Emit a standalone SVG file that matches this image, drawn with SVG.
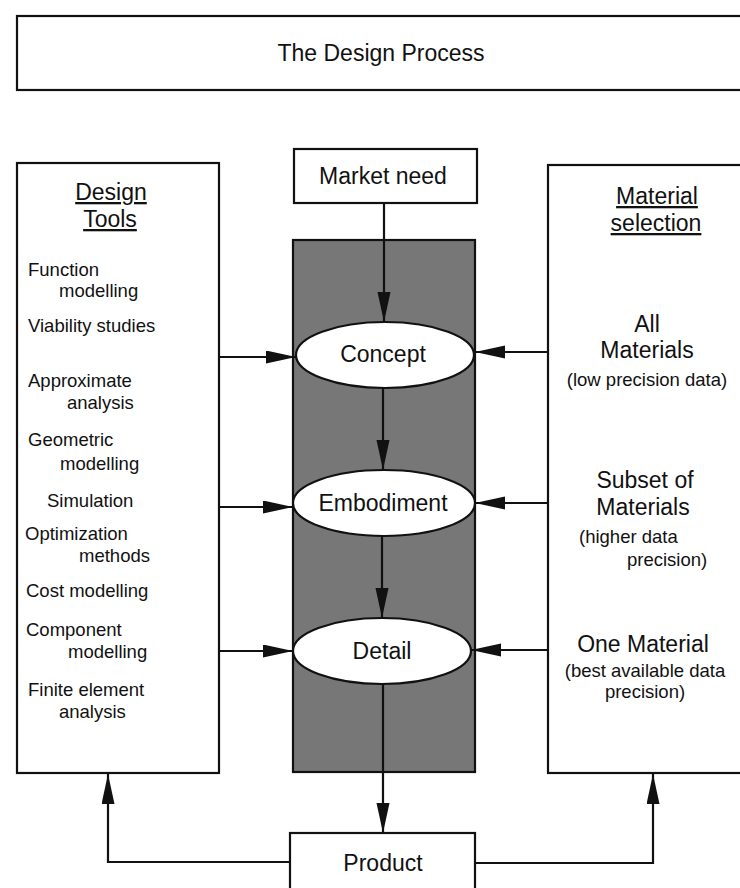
<svg xmlns="http://www.w3.org/2000/svg" width="740" height="888" viewBox="0 0 740 888">
<style>
text{font-family:"Liberation Sans",Arial,Helvetica,sans-serif;fill:#111}
.big{font-size:23px}
.sm{font-size:18.5px}
.mid{text-anchor:middle}
.box{fill:#fff;stroke:#111;stroke-width:2.2}
.ell{fill:#fff;stroke:#111;stroke-width:2.2}
.con{fill:none;stroke:#111;stroke-width:2.2}
.u{text-decoration:underline}
</style>
<defs>
<marker id="ah" markerUnits="userSpaceOnUse" markerWidth="32" markerHeight="14" refX="30" refY="6.5" orient="auto">
<path d="M0,0 L30,6.5 L0,13 z" fill="#111"/>
</marker>
</defs>
<rect width="740" height="888" fill="#fff"/>

<g id="title">
<rect class="box" x="17" y="16" width="745" height="74"/>
<text class="big mid" x="381" y="61">The Design Process</text>
</g>

<g id="design-tools">
<rect class="box" x="17" y="163" width="202" height="610"/>
<text class="big mid u" x="111" y="200">Design</text>
<text class="big mid u" x="110" y="227">Tools</text>
<g class="sm">
<text class="sm" x="28" y="276">Function</text>
<text class="sm" x="59" y="297">modelling</text>
<text class="sm" x="28" y="332">Viability studies</text>
<text class="sm" x="28" y="387">Approximate</text>
<text class="sm" x="67" y="409">analysis</text>
<text class="sm" x="28" y="446">Geometric</text>
<text class="sm" x="60" y="470">modelling</text>
<text class="sm" x="47" y="507">Simulation</text>
<text class="sm" x="25" y="540">Optimization</text>
<text class="sm" x="79" y="562">methods</text>
<text class="sm" x="26" y="597">Cost modelling</text>
<text class="sm" x="26" y="636">Component</text>
<text class="sm" x="68" y="658">modelling</text>
<text class="sm" x="28" y="696">Finite element</text>
<text class="sm" x="59" y="718">analysis</text>
</g>
</g>

<g id="material-selection">
<rect class="box" x="548" y="165" width="214" height="608"/>
<text class="big mid u" x="657" y="204">Material</text>
<text class="big mid u" x="656" y="231">selection</text>
<text class="big mid" x="647" y="332">All</text>
<text class="big mid" x="647" y="358">Materials</text>
<text class="sm mid" x="647" y="386">(low precision data)</text>
<text class="big mid" x="645" y="488">Subset of</text>
<text class="big mid" x="643" y="515">Materials</text>
<text class="sm" x="579" y="543">(higher data</text>
<text class="sm" x="627" y="566">precision)</text>
<text class="big mid" x="643" y="652">One Material</text>
<text class="sm mid" x="645" y="677">(best available data</text>
<text class="sm mid" x="645" y="698">precision)</text>
</g>

<g id="process-column">
<rect x="293" y="240" width="182" height="532" fill="#777" stroke="#111" stroke-width="2.2"/>
</g>

<g id="market-need">
<rect class="box" x="294" y="149" width="183" height="54"/>
<text class="big mid" x="383" y="184">Market need</text>
</g>

<g id="concept">
<ellipse class="ell" cx="385" cy="355" rx="89" ry="33"/>
<text class="big mid" x="383" y="362">Concept</text>
</g>

<g id="embodiment">
<ellipse class="ell" cx="384" cy="503" rx="91" ry="33"/>
<text class="big mid" x="383" y="511">Embodiment</text>
</g>

<g id="detail">
<ellipse class="ell" cx="382" cy="651" rx="89" ry="33"/>
<text class="big mid" x="382" y="659">Detail</text>
</g>

<g id="product">
<rect class="box" x="290" y="833" width="185" height="70"/>
<text class="big mid" x="383" y="871">Product</text>
</g>

<g id="connectors">
<line class="con" x1="384" y1="203" x2="384" y2="322" marker-end="url(#ah)"/>
<line class="con" x1="383" y1="388" x2="383" y2="470" marker-end="url(#ah)"/>
<line class="con" x1="382" y1="536" x2="382" y2="618" marker-end="url(#ah)"/>
<line class="con" x1="383" y1="684" x2="383" y2="833" marker-end="url(#ah)"/>
<line class="con" x1="219" y1="357" x2="296" y2="357" marker-end="url(#ah)"/>
<line class="con" x1="219" y1="507" x2="293" y2="507" marker-end="url(#ah)"/>
<line class="con" x1="219" y1="651" x2="293" y2="651" marker-end="url(#ah)"/>
<line class="con" x1="548" y1="352" x2="475" y2="352" marker-end="url(#ah)"/>
<line class="con" x1="548" y1="503" x2="475" y2="503" marker-end="url(#ah)"/>
<line class="con" x1="548" y1="650" x2="471" y2="650" marker-end="url(#ah)"/>
<polyline class="con" points="290,862 108,862 108,774" marker-end="url(#ah)"/>
<polyline class="con" points="475,863 653,863 653,774" marker-end="url(#ah)"/>
</g>
</svg>
